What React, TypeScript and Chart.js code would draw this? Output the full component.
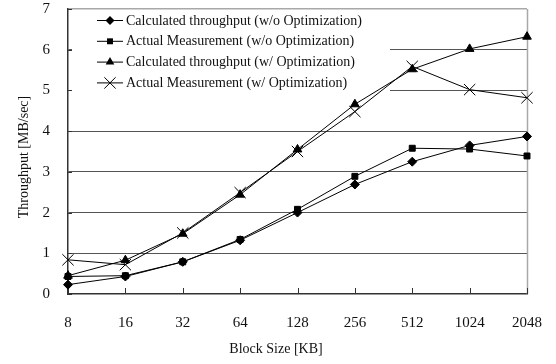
import React, { useEffect, useRef } from "react";
import { Chart, registerables } from "chart.js";

Chart.register(...registerables);

const blockSizes = ["8", "16", "32", "64", "128", "256", "512", "1024", "2048"];
const calcNoOpt = [0.23, 0.43, 0.79, 1.32, 2.0, 2.69, 3.25, 3.65, 3.87];
const actualNoOpt = [0.43, 0.45, 0.79, 1.34, 2.08, 2.89, 3.58, 3.56, 3.39];
const calcOpt = [0.45, 0.83, 1.48, 2.44, 3.55, 4.66, 5.52, 6.02, 6.32];
const actualOpt = [0.84, 0.72, 1.5, 2.49, 3.5, 4.48, 5.59, 5.02, 4.82];

const seriesNames = [
  "Calculated throughput (w/o Optimization)",
  "Actual Measurement (w/o Optimization)",
  "Calculated throughput (w/ Optimization)",
  "Actual Measurement (w/ Optimization)",
];
const seriesStyles = ["rectRot", "rect", "triangle", "crossRot"];
const seriesRadius = [4.5, 4.2, 5, 8];

const xTitle = "Block Size [KB]";
const yTitle = "Throughput [MB/sec]";

const SERIF = "'Liberation Serif', 'Times New Roman', serif";

function drawMarker(ctx: CanvasRenderingContext2D, style: string, r: number, x: number, y: number) {
  ctx.beginPath();
  if (style === "rectRot") {
    ctx.moveTo(x, y - r);
    ctx.lineTo(x + r, y);
    ctx.lineTo(x, y + r);
    ctx.lineTo(x - r, y);
    ctx.closePath();
    ctx.fill();
  } else if (style === "rect") {
    const s = r * Math.SQRT1_2;
    ctx.rect(x - s, y - s, 2 * s, 2 * s);
    ctx.fill();
  } else if (style === "triangle") {
    ctx.moveTo(x, y - r);
    ctx.lineTo(x + r * 0.866, y + r * 0.5);
    ctx.lineTo(x - r * 0.866, y + r * 0.5);
    ctx.closePath();
    ctx.fill();
  } else {
    const s = r * Math.SQRT1_2;
    ctx.moveTo(x - s, y - s);
    ctx.lineTo(x + s, y + s);
    ctx.moveTo(x + s, y - s);
    ctx.lineTo(x - s, y + s);
    ctx.stroke();
  }
}

// Inside tick stubs, right frame, axis titles and the boxed legend over the grid.
const framePlugin = {
  id: "frame",
  beforeDatasetsDraw(chart: any) {
    const { ctx, chartArea } = chart;
    const { left, right, top, bottom } = chartArea;
    ctx.save();
    // legend backing hides the grid lines behind it
    ctx.fillStyle = "#ffffff";
    ctx.fillRect(72, top + 1.5, 318, 100);
    // right frame
    ctx.strokeStyle = "#a8a8a8";
    ctx.lineWidth = 1.5;
    ctx.beginPath();
    ctx.moveTo(right + 0.5, top);
    ctx.lineTo(right + 0.5, bottom);
    ctx.stroke();
    // tick stubs
    ctx.strokeStyle = "#333";
    ctx.lineWidth = 1;
    const xs = chart.scales.x;
    xs.ticks.forEach((_t: any, i: number) => {
      const px = Math.round(xs.getPixelForTick(i)) + 0.5;
      ctx.beginPath();
      ctx.moveTo(px, bottom);
      ctx.lineTo(px, bottom - 6);
      ctx.stroke();
    });
    const ys = chart.scales.y;
    ys.ticks.forEach((_t: any, i: number) => {
      const py = Math.round(ys.getPixelForTick(i)) + 0.5;
      ctx.beginPath();
      ctx.moveTo(left, py);
      ctx.lineTo(left + 4, py);
      ctx.stroke();
    });
    // axis titles
    ctx.fillStyle = "#111";
    ctx.font = `14px ${SERIF}`;
    ctx.textAlign = "center";
    ctx.textBaseline = "middle";
    ctx.fillText(xTitle, 276, 349);
    ctx.translate(24, 157);
    ctx.rotate(-Math.PI / 2);
    ctx.fillText(yTitle, 0, 0);
    ctx.restore();
  },
  afterDatasetsDraw(chart: any) {
    const { ctx } = chart;
    ctx.save();
    ctx.font = `14px ${SERIF}`;
    ctx.textBaseline = "middle";
    seriesNames.forEach((name, i) => {
      const y = 20.5 + i * 20.8;
      ctx.strokeStyle = "#000";
      ctx.lineWidth = 1;
      ctx.beginPath();
      ctx.moveTo(97, y);
      ctx.lineTo(123, y);
      ctx.stroke();
      ctx.fillStyle = "#000";
      drawMarker(ctx, seriesStyles[i], seriesRadius[i], 110, y);
      ctx.fillStyle = "#111";
      ctx.fillText(name, 126, y + 0.5);
    });
    ctx.restore();
  },
};

export default function App() {
  const ref = useRef<HTMLCanvasElement>(null);

  useEffect(() => {
    if (!ref.current) return;
    const values = [calcNoOpt, actualNoOpt, calcOpt, actualOpt];
    const chart = new Chart(ref.current, {
      type: "line",
      data: {
        labels: blockSizes,
        datasets: values.map((v, i) => ({
          label: seriesNames[i],
          data: v,
          borderColor: "#000",
          backgroundColor: "#000",
          borderWidth: 1,
          pointStyle: seriesStyles[i] as any,
          pointRadius: seriesRadius[i],
          pointBorderWidth: 1,
          pointBackgroundColor: "#000",
          pointBorderColor: "#000",
          tension: 0,
        })),
      },
      options: {
        animation: false,
        responsive: false,
        devicePixelRatio: 1,
        layout: { padding: { top: 4, right: 29, left: 0, bottom: 0 } },
        plugins: {
          legend: { display: false },
          tooltip: { enabled: false },
        },
        scales: {
          x: {
            type: "category",
            offset: false,
            grid: { display: false, drawTicks: false },
            border: { display: true, color: "#333", width: 1.5 },
            ticks: {
              color: "#111",
              font: { family: SERIF, size: 15 },
              padding: 20,
              maxRotation: 0,
            },
            afterFit(s: any) {
              s.height = 70;
              s.paddingLeft = 0;
              s.paddingRight = 0;
            },
          },
          y: {
            min: 0,
            max: 7,
            grid: {
              drawTicks: false,
              color: (c: any) =>
                c.tick && c.tick.value === 7 ? "#a8a8a8" : c.tick && c.tick.value === 0 ? "rgba(0,0,0,0)" : "#555",
              lineWidth: (c: any) => (c.tick && c.tick.value === 7 ? 1.5 : 1),
            },
            border: { display: true, color: "#333", width: 1.5 },
            ticks: {
              stepSize: 1,
              color: "#111",
              font: { family: SERIF, size: 15 },
              padding: 18,
            },
            afterFit(s: any) {
              s.width = 68;
              s.paddingTop = 0;
              s.paddingBottom = 0;
            },
          },
        },
      },
      plugins: [framePlugin],
    });
    return () => chart.destroy();
  }, []);

  return (
    <div style={{ position: "absolute", left: 0, top: 0, width: 556, height: 364, background: "#fff" }}>
      <canvas ref={ref} width={556} height={364} style={{ width: 556, height: 364 }} />
    </div>
  );
}
